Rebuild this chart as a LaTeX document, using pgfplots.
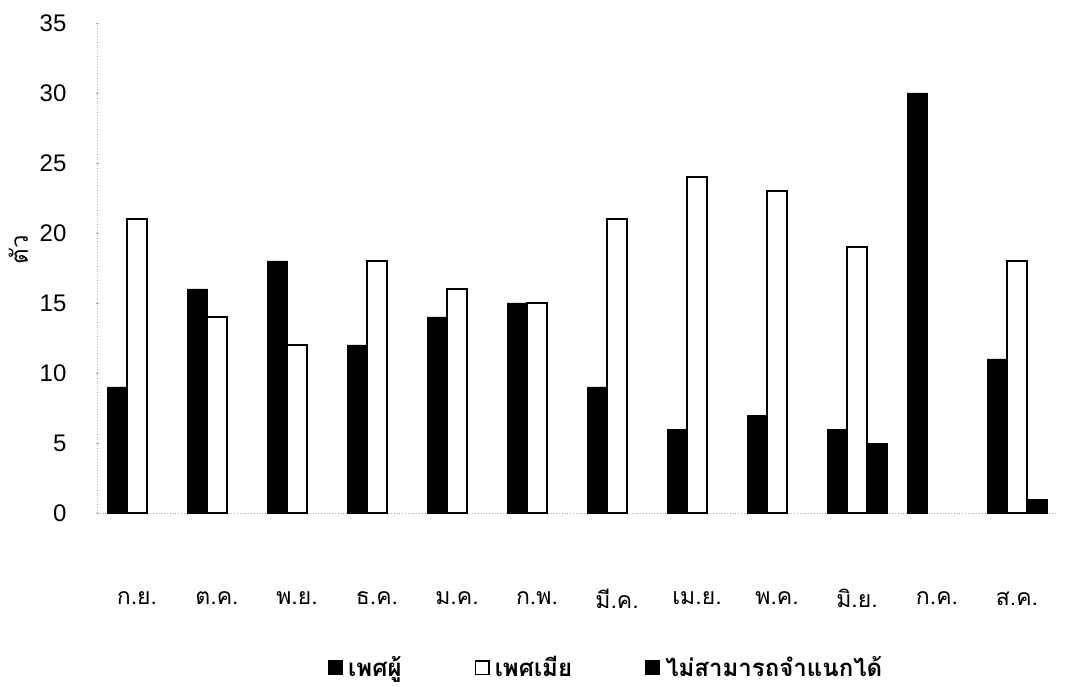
\documentclass[border=0pt]{standalone}
\usepackage{fontspec}
\setmainfont{Liberation Sans}
\newfontfamily\thaifont[Script=Thai]{Loma}
\usepackage{pgfplots}
\pgfplotsset{compat=1.18}
\begin{document}
\begin{tikzpicture}
\path[use as bounding box] (0,0) rectangle (532.5pt,343pt);
\begin{axis}[
  at={(48.5pt,86.5pt)}, anchor=south west,
  scale only axis, width=480pt, height=245pt,
  xmin=-0.5, xmax=11.5, ymin=0, ymax=35,
  ybar=0pt, bar width=10pt,
  axis x line=bottom, axis y line=left,
  axis line style={gray!60, densely dotted, thin, -},
  xtick={0,...,11},
  xticklabels={ก.ย.,ต.ค.,พ.ย.,ธ.ค.,ม.ค.,ก.พ.,มี.ค.,เม.ย.,พ.ค.,มิ.ย.,ก.ค.,ส.ค.},
  xticklabel style={font=\thaifont\fontsize{11.5}{13}\selectfont, anchor=center, yshift=-42pt},
  xtick style={draw=none},
  extra x ticks={0.5,1.5,...,10.5},
  extra x tick labels={},
  extra x tick style={tick align=outside, major tick length=4pt, tick style={draw=gray!70, thin}},
  ytick={0,5,...,35},
  yticklabel style={font=\fontsize{12}{14}\selectfont, xshift=-11pt},
  /pgf/number format/assume math mode=true,
  ytick style={draw=gray!60, thin},
  major tick length=1.5pt,
  ylabel={\thaifont ตัว},
  ylabel style={font=\fontsize{12}{14}\selectfont, at={(axis description cs:-0.082,0.537)}, anchor=center},
  legend columns=3,
  legend style={draw=none, fill=none, at={(axis description cs:0.234,-0.316)}, anchor=west,
    font=\thaifont\bfseries\fontsize{12}{14}\selectfont,
    /tikz/every even column/.append style={column sep=34pt},
    nodes={inner xsep=2.5pt}},
  legend image code/.code={\draw[#1, line width=0.8pt] (0pt,-3.4pt) rectangle (6.8pt,3.4pt);},
]
\addplot[fill=black, draw=black] coordinates {(0,9) (1,16) (2,18) (3,12) (4,14) (5,15) (6,9) (7,6) (8,7) (9,6) (10,30) (11,11)};
\addplot[fill=white, draw=black, line width=1.2pt] coordinates {(0,21) (1,14) (2,12) (3,18) (4,16) (5,15) (6,21) (7,24) (8,23) (9,19) (11,18)};
\addplot[fill=black, draw=black] coordinates {(9,5) (11,1)};
\legend{เพศผู้,เพศเมีย,ไม่สามารถจำแนกได้}
\end{axis}
\end{tikzpicture}
\end{document}
